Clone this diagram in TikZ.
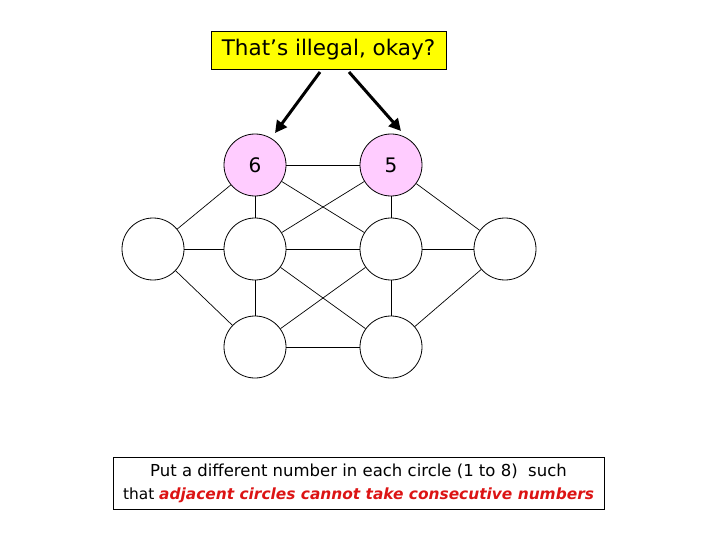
\documentclass[tikz,border=0pt]{standalone}
\usepackage{fontspec}
\setmainfont{DejaVu Sans}
\usetikzlibrary{arrows.meta}
\definecolor{pinkfill}{RGB}{255,204,255}
\definecolor{boxyellow}{RGB}{255,255,0}
\definecolor{redtxt}{RGB}{220,20,20}
\tikzset{
  vert/.style={circle, draw=black, line width=0.8pt, minimum size=62pt, inner sep=0pt, font=\fontsize{20}{24}\selectfont},
  given/.style={vert, fill=pinkfill},
  edge/.style={draw=black, line width=0.7pt},
  bigarrow/.style={line width=3pt, -{Triangle[length=12pt,width=12pt]}},
}
\begin{document}
\begin{tikzpicture}[x=1pt,y=-1pt]
\useasboundingbox (0,0) rectangle (720,540);
\node[given] (tl) at (255,165) {6};
\node[given] (tr) at (391,165) {5};
\node[vert] (ml) at (153,249) {};
\node[vert] (m1) at (255,249) {};
\node[vert] (m2) at (391,249) {};
\node[vert] (mr) at (505,249) {};
\node[vert] (bl) at (255,347) {};
\node[vert] (br) at (391,347) {};
\draw[edge] (tl) -- (tr);
\draw[edge] (tl) -- (ml);
\draw[edge] (tl) -- (m1);
\draw[edge] (tl) -- (m2);
\draw[edge] (tr) -- (m1);
\draw[edge] (tr) -- (m2);
\draw[edge] (tr) -- (mr);
\draw[edge] (ml) -- (m1);
\draw[edge] (m1) -- (m2);
\draw[edge] (m2) -- (mr);
\draw[edge] (ml) -- (bl);
\draw[edge] (m1) -- (bl);
\draw[edge] (m1) -- (br);
\draw[edge] (m2) -- (bl);
\draw[edge] (m2) -- (br);
\draw[edge] (mr) -- (br);
\draw[edge] (bl) -- (br);
\node[draw=black, line width=0.8pt, fill=boxyellow, minimum width=235pt, minimum height=38pt, inner sep=0pt, font=\fontsize{21.5}{24}\selectfont] (title) at (328.5,50) {That’s illegal, okay?};
\coordinate (a1s) at (320,72);
\coordinate (a1e) at (275,133);
\coordinate (a2s) at (349,72);
\coordinate (a2e) at (401,131);
\draw[bigarrow] (a1s) -- (a1e);
\draw[bigarrow] (a2s) -- (a2e);
\node[draw=black, line width=0.8pt, minimum width=491pt, minimum height=52pt, inner sep=0pt, align=center, font=\fontsize{16.5}{23}\selectfont] (note) at (358.5,483) {Put a different number in each circle (1 to 8)\ \ such\\{\fontsize{15.4}{23}\selectfont that {\color{redtxt}\bfseries\itshape adjacent circles cannot take consecutive numbers}}};
\end{tikzpicture}
\end{document}
